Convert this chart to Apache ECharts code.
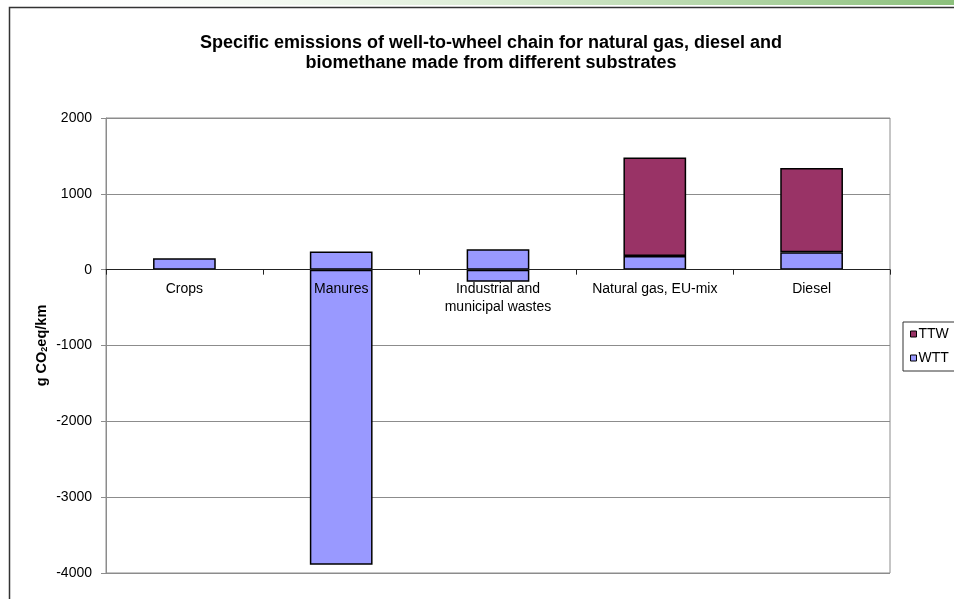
<!DOCTYPE html>
<html>
<head>
<meta charset="utf-8">
<style>
  html, body { margin: 0; padding: 0; background: #fff; }
  #chart { width: 954px; height: 599px; }
</style>
<script src="https://cdn.jsdelivr.net/npm/echarts@6/dist/echarts.min.js"></script>
</head>
<body>
<div id="chart"></div>
<script>
// Well-to-wheel emissions, g CO2eq/km
const categories = ['Crops', 'Manures', 'Industrial and\nmunicipal wastes', 'Natural gas, EU-mix', 'Diesel'];
// Well-to-tank: emissions (positive part) and credits (negative part)
const wttPositive = [150, 240, 270, 180, 230];
const wttNegative = [null, -3890, -160, null, null];
// Tank-to-wheel
const ttw = [null, null, null, 1300, 1110];
const yTicks = { min: -4000, max: 2000, step: 1000 };

const FONT = "'Liberation Sans', Arial, sans-serif";
const WTT_COLOR = '#9999ff';
const TTW_COLOR = '#993366';
const barBorder = { borderColor: '#000', borderWidth: 1.5 };

const W = 954, H = 599;
const grid = { left: 106, right: 64, top: 118, bottom: 26 };
// The category axis sits on the zero line of the value axis
const plotHeight = H - grid.top - grid.bottom;
const zeroOffset = -plotHeight * (0 - yTicks.min) / (yTicks.max - yTicks.min);

const chart = echarts.init(document.getElementById('chart'), null, { renderer: 'canvas' });

chart.setOption({
  animation: false,
  backgroundColor: '#fff',
  textStyle: { fontFamily: FONT },
  title: {
    text: 'Specific emissions of well-to-wheel chain for natural gas, diesel and\nbiomethane made from different substrates',
    left: 491,
    top: 33,
    textAlign: 'center',
    padding: 0,
    textStyle: { fontFamily: FONT, fontSize: 18, fontWeight: 'bold', color: '#000', lineHeight: 20 }
  },
  graphic: [
    {
      type: 'rect',
      shape: { x: 0, y: 0, width: W, height: 5 },
      style: {
        fill: new echarts.graphic.LinearGradient(0, 0, 1, 0, [
          { offset: 0, color: 'rgba(255,255,255,0)' },
          { offset: 0.55, color: '#d4e8cc' },
          { offset: 1, color: '#8cc07c' }
        ])
      },
      silent: true
    },
    {
      type: 'rect',
      shape: { x: 9.5, y: 7.5, width: 1200, height: 800 },
      style: { fill: 'none', stroke: '#333', lineWidth: 1.5 },
      silent: true
    }
  ],
  legend: {
    data: ['TTW', 'WTT'],
    orient: 'vertical',
    left: 903,
    top: 322,
    padding: [5, 30, 6, 7],
    itemGap: 10,
    itemWidth: 6,
    itemHeight: 6,
    icon: 'rect',
    borderColor: '#333',
    borderWidth: 1,
    itemStyle: { borderColor: '#000', borderWidth: 1 },
    textStyle: { fontFamily: FONT, fontSize: 14, lineHeight: 14, color: '#000', padding: [0, 0, 0, -3] }
  },
  grid: {
    left: grid.left, right: grid.right, top: grid.top, bottom: grid.bottom,
    outerBoundsMode: 'none',
    containLabel: false,
    show: true, borderColor: '#8c8c8c', borderWidth: 1, backgroundColor: 'transparent'
  },
  xAxis: {
    type: 'category',
    data: categories,
    z: 10,
    offset: zeroOffset,
    axisLine: { onZero: false, lineStyle: { color: '#222', width: 1 } },
    axisTick: { show: true, length: 5, lineStyle: { color: '#222' } },
    axisLabel: { fontFamily: FONT, fontSize: 14, color: '#000', margin: 10, lineHeight: 18, interval: 0 },
    splitLine: { show: false }
  },
  yAxis: {
    type: 'value',
    min: yTicks.min,
    max: yTicks.max,
    interval: yTicks.step,
    name: '{a|g CO}{b|2}{a|eq/km}',
    nameLocation: 'middle',
    nameRotate: 90,
    nameGap: 56,
    nameMoveOverlap: false,
    nameTextStyle: {
      rich: {
        a: { fontFamily: FONT, fontSize: 14.5, fontWeight: 'bold', color: '#000', lineHeight: 16 },
        b: { fontFamily: FONT, fontSize: 9, fontWeight: 'bold', color: '#000', lineHeight: 16, padding: [6, 0, 0, 0] }
      }
    },
    axisLine: { show: true, lineStyle: { color: '#8c8c8c' } },
    axisTick: { show: true, length: 5, lineStyle: { color: '#8c8c8c' } },
    axisLabel: { fontFamily: FONT, fontSize: 14, color: '#000', margin: 14, formatter: v => String(v) },
    splitLine: { show: true, lineStyle: { color: '#8c8c8c', width: 1 } }
  },
  series: [
    {
      name: 'WTT', type: 'bar', stack: 'total', barWidth: '40%',
      data: wttPositive,
      itemStyle: Object.assign({ color: WTT_COLOR }, barBorder)
    },
    {
      name: 'WTT', type: 'bar', stack: 'total', barWidth: '40%',
      data: wttNegative,
      itemStyle: Object.assign({ color: WTT_COLOR }, barBorder)
    },
    {
      name: 'TTW', type: 'bar', stack: 'total', barWidth: '40%',
      data: ttw,
      itemStyle: Object.assign({ color: TTW_COLOR }, barBorder)
    }
  ]
});
</script>
</body>
</html>
